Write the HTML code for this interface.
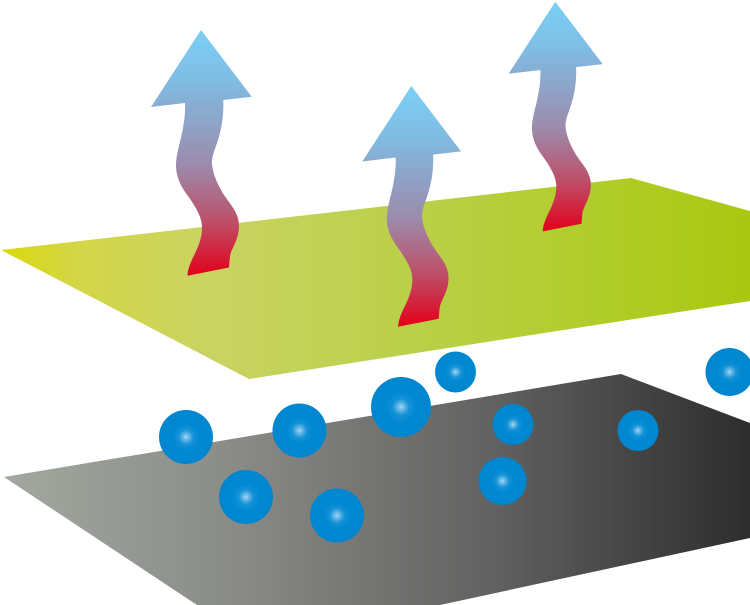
<!DOCTYPE html>
<html><head><meta charset="utf-8"><style>html,body{margin:0;padding:0;background:#fff}svg{display:block}</style></head>
<body>
<svg width="750" height="605" viewBox="0 0 750 605" xmlns="http://www.w3.org/2000/svg">
<defs>
<linearGradient id="g" gradientUnits="userSpaceOnUse" x1="0" x2="750" y1="0" y2="0">
<stop offset="0" stop-color="#d9d90a"/><stop offset=".1" stop-color="#d3d645"/><stop offset=".28" stop-color="#c9d362"/><stop offset=".55" stop-color="#bad049"/><stop offset=".85" stop-color="#aecb22"/><stop offset="1" stop-color="#aac811"/>
</linearGradient>
<linearGradient id="d" gradientUnits="userSpaceOnUse" x1="4" x2="750" y1="0" y2="0">
<stop offset="0" stop-color="#a2a89f"/><stop offset=".3" stop-color="#8a8c88"/><stop offset=".65" stop-color="#626261"/><stop offset="1" stop-color="#2d2d2d"/>
</linearGradient>
<linearGradient id="a" x1="0" x2="0" y1="0" y2="1">
<stop offset="0" stop-color="#7bd0f7"/><stop offset=".2" stop-color="#7fbde4"/><stop offset=".55" stop-color="#9c8bac"/><stop offset=".78" stop-color="#bd4f68"/><stop offset="1" stop-color="#e3001b"/>
</linearGradient>
<radialGradient id="b">
<stop offset="0" stop-color="#a8d6f2"/><stop offset=".1" stop-color="#6cbae8"/><stop offset=".28" stop-color="#1491d6"/><stop offset=".5" stop-color="#0089d2"/><stop offset="1" stop-color="#0086cf"/>
</radialGradient>
<path id="arrow" d="M0 0 L50.7 66.7 L22.3 70 C22.8 85 21 98 16 113 C13 122 10.5 127 11 134 C12 146 19 160 28 172 C34 180 38 187 38 196 C38 208 32 216 29.5 224 C28.5 228 28.5 233 28 237.5 L-13.5 245.7 C-13 236 -8 228 -4 219 C-1 212 1.5 204 1 196 C0.5 186 -6 176 -13 166 C-19 158 -25 148 -25 135 C-25 125 -21 113 -19 103 C-17 93 -15.5 84 -16 73 L-50 77 Z" fill="url(#a)"/>
</defs>
<polygon points="1,250 631,178 750,211 750,301 249,379" fill="url(#g)"/>
<polygon points="4,477 621,374 750,423 750,538 440,605 197,605" fill="url(#d)"/>
<use href="#arrow" transform="translate(201 30)"/>
<use href="#arrow" transform="translate(411.3 86) scale(.98)"/>
<use href="#arrow" transform="translate(555.3 1.7) scale(.935)"/>
<g fill="url(#b)">
<circle cx="186" cy="437" r="27"/>
<circle cx="299.5" cy="430.5" r="27"/>
<circle cx="401" cy="407" r="30"/>
<circle cx="455.5" cy="372" r="20.5"/>
<circle cx="513" cy="424.5" r="20.5"/>
<circle cx="638" cy="430.5" r="20.5"/>
<circle cx="729.5" cy="372" r="24"/>
<circle cx="502.5" cy="481" r="24"/>
<circle cx="246" cy="497" r="27"/>
<circle cx="337" cy="515.5" r="27"/>
</g>
</svg>
</body></html>
